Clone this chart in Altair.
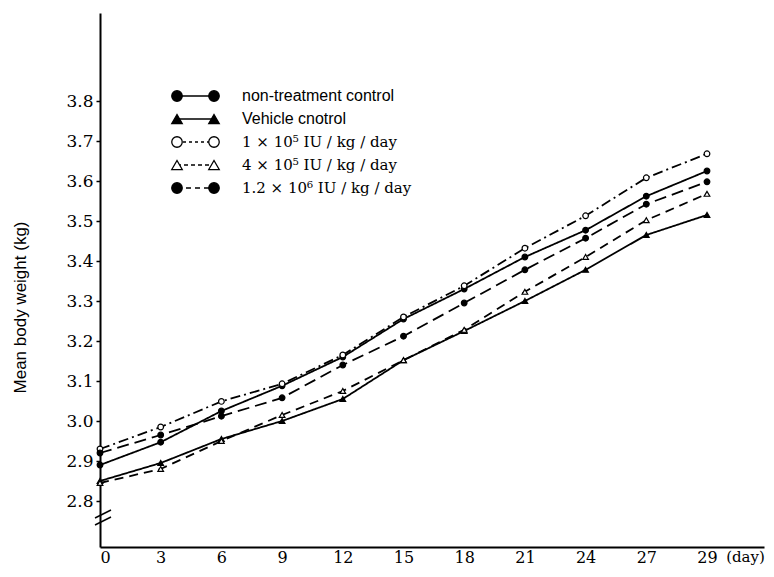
import json
import altair as alt
import pandas as pd

# ---------------- data ----------------
days = ["0", "3", "6", "9", "12", "15", "18", "21", "24", "27", "29"]
series = [
    "non-treatment control",
    "Vehicle cnotrol",
    "1 × 10⁵ IU / kg / day",
    "4 × 10⁵ IU / kg / day",
    "1.2 × 10⁶ IU / kg / day",
]
nontreat = [2.890, 2.947, 3.025, 3.088, 3.160, 3.255, 3.330, 3.410, 3.477, 3.562, 3.625]
vehicle = [2.850, 2.895, 2.955, 3.000, 3.055, 3.152, 3.225, 3.300, 3.378, 3.465, 3.515]
dose_1e5 = [2.930, 2.985, 3.049, 3.093, 3.165, 3.260, 3.338, 3.432, 3.513, 3.608, 3.668]
dose_4e5 = [2.845, 2.880, 2.950, 3.015, 3.075, 3.152, 3.228, 3.323, 3.410, 3.502, 3.568]
dose_12e6 = [2.920, 2.965, 3.012, 3.058, 3.140, 3.212, 3.295, 3.378, 3.457, 3.542, 3.598]
y_ticks = [2.8, 2.9, 3.0, 3.1, 3.2, 3.3, 3.4, 3.5, 3.6, 3.7, 3.8]

all_values = [nontreat, vehicle, dose_1e5, dose_4e5, dose_12e6]
rows = []
for s, vals in zip(series, all_values):
    for i, (d, v) in enumerate(zip(days, vals)):
        rows.append({"series": s, "idx": i, "day": d, "weight": v})
df = pd.DataFrame(rows)

# ---------------- styles ----------------
line_dash = [[1, 0], [1, 0], [10, 4, 2, 4], [9, 6], [12, 6]]
legend_dash = [[1, 0], [1, 0], [3, 3], [4, 3], [5, 4]]
shapes = ["circle", "triangle-up", "circle", "triangle-up", "circle"]
fills = ["black", "black", "white", "white", "black"]
legend_fonts = ["Liberation Sans", "Liberation Sans", "DejaVu Serif", "DejaVu Serif", "DejaVu Serif"]
legend_sizes = [16, 16, 15, 15, 15]

W, H = 664, 534
STEP = 60.7
label_expr = json.dumps(days) + "[datum.value]"

x_enc = alt.X(
    "idx:Q",
    scale=alt.Scale(domain=[0, W / STEP], nice=False, zero=False),
    axis=alt.Axis(
        values=list(range(len(days))),
        labelExpr=label_expr,
        ticks=False,
        tickSize=0,
        grid=False,
        domainWidth=2,
        labelFont="DejaVu Serif",
        labelFontSize=16,
        labelPadding=2,
        title="(day)",
        titleFont="DejaVu Serif",
        titleFontSize=15,
        titleFontWeight="normal",
        titleX=645,
        titleY=2,
        titleAlign="center",
        titleBaseline="top",
    ),
)
y_enc = alt.Y(
    "weight:Q",
    scale=alt.Scale(domain=[2.685, 4.02], nice=False, zero=False),
    axis=alt.Axis(
        values=y_ticks,
        format=".1f",
        grid=False,
        domainWidth=2,
        tickSize=4,
        tickWidth=1.5,
        labelFont="DejaVu Serif",
        labelFontSize=17,
        labelPadding=3,
        title="Mean body weight (kg)",
        titleFont="Liberation Sans",
        titleFontSize=17,
        titleFontWeight="normal",
        titleAngle=270,
        titleX=-80,
        titleY=294,
        titleAlign="center",
        titleBaseline="middle",
    ),
)

base = alt.Chart(df)
lines = base.mark_line(color="black", strokeWidth=1.8).encode(
    x=x_enc,
    y=y_enc,
    strokeDash=alt.StrokeDash("series:N", scale=alt.Scale(domain=series, range=line_dash), legend=None),
)
points = base.mark_point(filled=True, stroke="black", strokeWidth=1.2, size=32, opacity=1).encode(
    x=x_enc,
    y=y_enc,
    shape=alt.Shape("series:N", scale=alt.Scale(domain=series, range=shapes), legend=None),
    fill=alt.Fill("series:N", scale=alt.Scale(domain=series, range=fills), legend=None),
)

layers = [lines, points]

# ---------------- hand-drawn style legend ----------------
LEG_Y0, LEG_DY = 83, 23
LX1, LX2, TX = 77, 114, 142
for i, s in enumerate(series):
    ly = LEG_Y0 + LEG_DY * i
    one = alt.Chart(pd.DataFrame({"series": [s]}))
    layers.append(
        one.mark_rule(color="black", strokeWidth=1.5, strokeDash=legend_dash[i]).encode(
            x=alt.value(LX1), x2=alt.value(LX2), y=alt.value(ly)
        )
    )
    for lx in (LX1, LX2):
        layers.append(
            one.mark_point(
                shape=shapes[i], filled=True, fill=fills[i], stroke="black",
                strokeWidth=1.3, size=110, opacity=1,
            ).encode(x=alt.value(lx), y=alt.value(ly))
        )
    layers.append(
        one.mark_text(
            align="left", baseline="middle", font=legend_fonts[i],
            fontSize=legend_sizes[i], color="black",
        ).encode(x=alt.value(TX), y=alt.value(ly), text="series:N")
    )

# ---------------- axis break marks ----------------
brk = alt.Chart(pd.DataFrame({"k": [0]}))
layers.append(brk.mark_rule(color="black", strokeWidth=1.4).encode(
    x=alt.value(-5), x2=alt.value(11), y=alt.value(505), y2=alt.value(497)))
layers.append(brk.mark_rule(color="black", strokeWidth=1.4).encode(
    x=alt.value(-5), x2=alt.value(11), y=alt.value(512), y2=alt.value(504)))

chart = (
    alt.layer(*layers)
    .properties(
        width=W,
        height=H,
        padding={"left": 92, "top": 5, "right": 2, "bottom": 22},
        autosize=alt.AutoSizeParams(type="none"),
        background="white",
    )
    .configure_view(strokeWidth=0)
    .configure_axis(domainColor="black", tickColor="black", labelColor="black", titleColor="black")
)

chart.save("out.html", embed_options={"renderer": "svg", "actions": False})
